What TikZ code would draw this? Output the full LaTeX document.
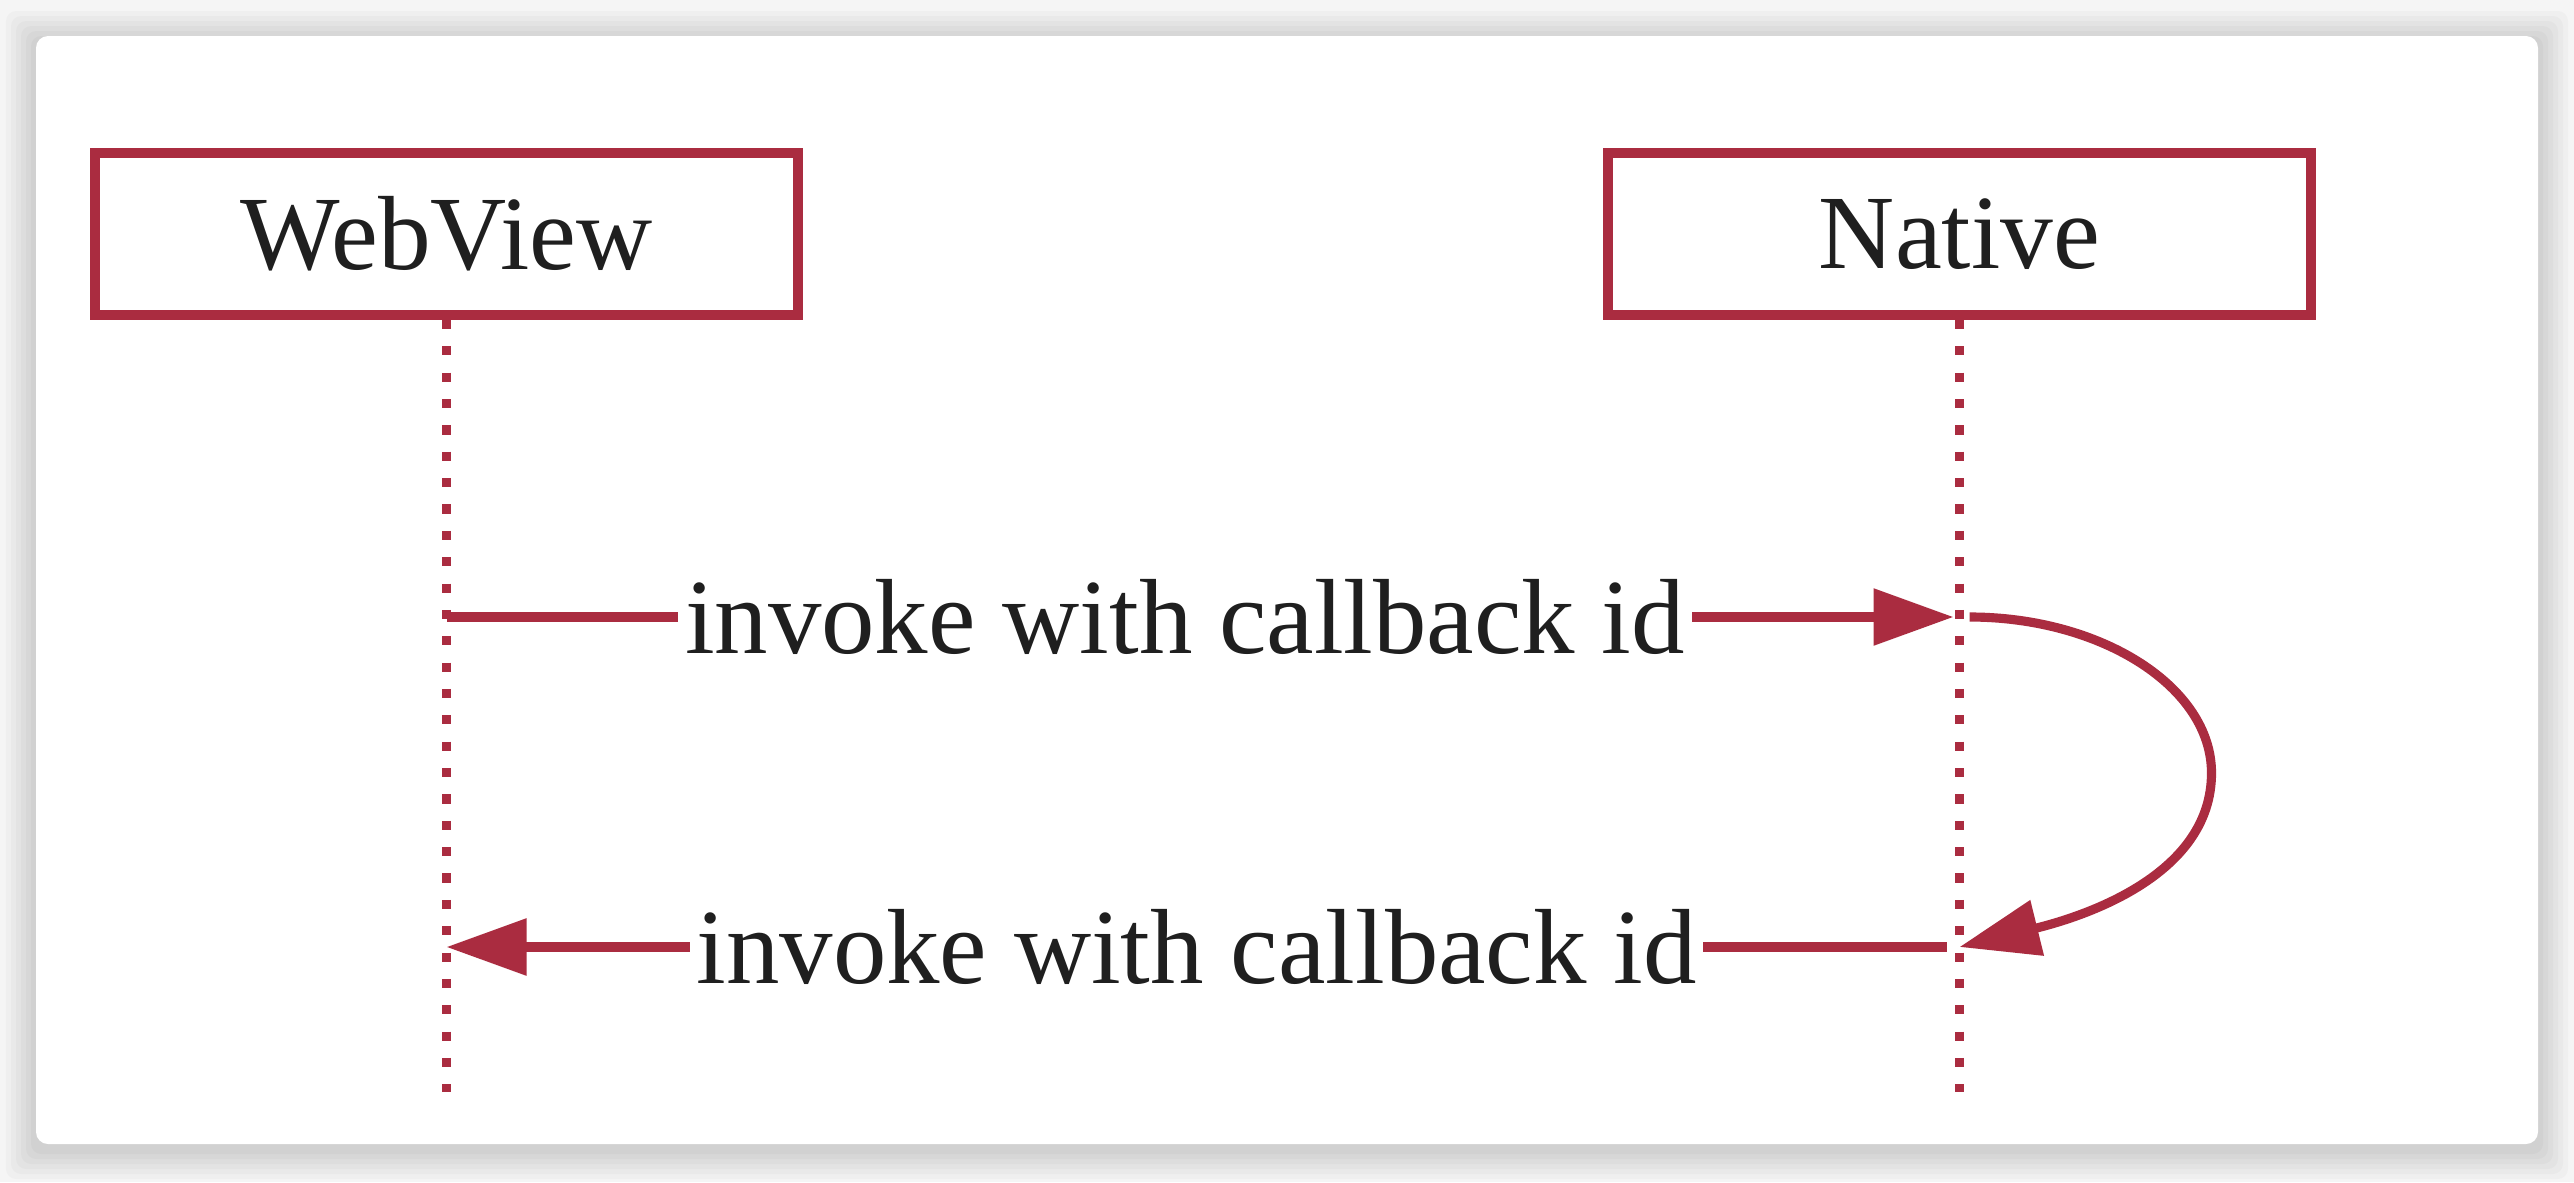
\documentclass[tikz,border=0pt]{standalone}
\usepackage{fontspec}
\setmainfont{Liberation Serif}
\usetikzlibrary{arrows.meta,calc}
\definecolor{seqred}{RGB}{170,44,64}
\begin{document}
\begin{tikzpicture}[
  box/.style={draw=seqred, line width=2.8pt, minimum width=7.03cm, minimum height=1.62cm, inner sep=0pt, font=\fontsize{30}{36}\selectfont, text=black!88},
  life/.style={seqred, line width=2.6pt, dash pattern=on 2.6pt off 4.9pt},
  msg/.style={seqred, line width=2.6pt, -{Triangle[length=0.8cm,width=0.55cm]}},
  lbl/.style={fill=white, inner sep=2pt, font=\fontsize{30.4}{36}\selectfont, text=black!88}
]
\def\W{25.74};\def\H{11.82};
\fill[gray!8] (0,0) rectangle (\W,\H);
\useasboundingbox (0,0) rectangle (\W,\H);
% soft shadow round the card
\foreach \s in {0.30,0.25,...,0.0}{
\fill[black, opacity=0.025, rounded corners=0.1cm] (0.36-\s,0.33-\s) rectangle (25.38+\s,11.41+\s);
}
\fill[white, rounded corners=0.12cm] (0.36,0.38) rectangle (25.38,11.46);
\node[box] (web) at (4.465,9.48) {WebView};
\node[box] (native) at (19.595,9.48) {Native};
\coordinate (webend) at (web.south |- 0,0.90);
\coordinate (nativeend) at (native.south |- 0,0.90);
\draw[life] (web.south) -- (webend);
\draw[life] (native.south) -- (nativeend);
\coordinate (w1) at (web.south |- 0,5.65);
\coordinate (n1) at (native.south |- 0,5.65);
\coordinate (w2) at (web.south |- 0,2.35);
\coordinate (n2) at (native.south |- 0,2.35);
\coordinate (turn) at ($(n1)+(2.52,-1.56)$);
\draw[msg] (w1) -- node[lbl, pos=0.49]{invoke with callback id} ($(n1)+(-0.06,0)$);
\draw[msg] ($(n1)+(0.1,0)$) .. controls +(1.32,0) and +(0,0.86) .. (turn) .. controls +(0,-1.0) and +(1.3,0.32) .. (n2);
\draw[msg] ($(n2)+(-0.13,0)$) -- node[lbl]{invoke with callback id} (w2);
\end{tikzpicture}
\end{document}
